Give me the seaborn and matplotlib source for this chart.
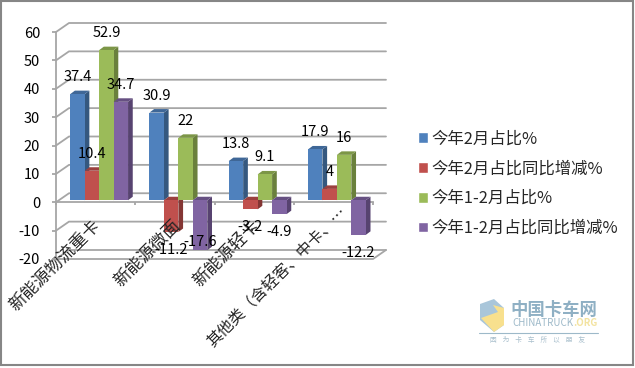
import pandas as pd
import seaborn as sns
import matplotlib.pyplot as plt
from matplotlib.patches import Polygon, Rectangle
from matplotlib.transforms import Affine2D

categories = ["新能源物流重卡", "新能源微面", "新能源轻卡", "其他类（含轻客、中卡、…"]
series_names = ["今年2月占比%", "今年2月占比同比增减%", "今年1-2月占比%", "今年1-2月占比同比增减%"]
feb_share = [37.4, 30.9, 13.8, 17.9]
feb_change = [10.4, -11.2, -3.2, 4]
ytd_share = [52.9, 22, 9.1, 16]
ytd_change = [34.7, -17.6, -4.9, -12.2]
y_ticks = [-20, -10, 0, 10, 20, 30, 40, 50, 60]

front_colors = ["#4F81BD", "#C0504D", "#9BBB59", "#8064A2"]
side_colors = ["#35587F", "#843634", "#6A803C", "#574370"]
top_colors = ["#3F6797", "#9A403E", "#7C9647", "#665082"]
GRID = "#A6A6A6"
W, H = 635, 368

sns.set_theme(style="white")
plt.rcParams["font.family"] = ["Noto Sans CJK SC", "DejaVu Sans"]
plt.rcParams["axes.unicode_minus"] = False

df = pd.DataFrame(
    {
        "category": categories,
        series_names[0]: feb_share,
        series_names[1]: feb_change,
        series_names[2]: ytd_share,
        series_names[3]: ytd_change,
    }
).melt(id_vars="category", var_name="series", value_name="value")

fig = plt.figure(figsize=(W / 100, H / 100), dpi=100, facecolor="white")
# front plane of the fake 3d box, in pixels: x 56-373, y 32-259
ax = fig.add_axes([56 / W, 1 - 259 / H, 317 / W, 227 / H])
ax.patch.set_visible(False)

sns.barplot(
    data=df,
    x="category",
    y="value",
    hue="series",
    hue_order=series_names,
    palette=front_colors,
    width=0.73,
    gap=0,
    saturation=1,
    errorbar=None,
    ax=ax,
)
ax.set_xlim(-0.5, 3.5)
ax.set_ylim(-20, 60)

px_x = 317 / 4  # pixels per category
px_y = 227 / 80  # pixels per y unit

# back wall and floor
wall_x = 13 / px_x
wall_y = 9 / px_y
for val in y_ticks:
    ax.plot(
        [-0.5, -0.5 + wall_x, 3.5 + wall_x],
        [val, val + wall_y, val + wall_y],
        color=GRID,
        lw=1.3,
        clip_on=False,
        zorder=0.4,
    )
ax.plot(
    [-0.5, 3.5, 3.5 + wall_x],
    [-20, -20, -20 + wall_y],
    color=GRID,
    lw=1.3,
    clip_on=False,
    zorder=0.4,
)

# sides and tops of the bars, left to right so the next bar covers them
shift_x = 3.5 / px_x
shift_y = 2 / px_y
dx = 4.7 / px_x
dy = 3.5 / px_y
bars = []
for i, container in enumerate(ax.containers):
    for bar in container:
        bar.set_x(bar.get_x() + shift_x)
        bar.set_y(bar.get_y() + shift_y)
        left = bar.get_x()
        right = left + bar.get_width()
        low = min(bar.get_y(), bar.get_y() + bar.get_height())
        high = max(bar.get_y(), bar.get_y() + bar.get_height())
        base_z = 1 + i * 0.1
        bar.set_zorder(base_z + 0.05)
        bar.set_linewidth(0)
        ax.add_patch(
            Polygon(
                [(right, low), (right + dx, low + dy), (right + dx, high + dy), (right, high)],
                color=side_colors[i],
                lw=0,
                zorder=base_z,
                clip_on=False,
            )
        )
        ax.add_patch(
            Polygon(
                [(left, high), (left + dx, high + dy), (right + dx, high + dy), (right, high)],
                color=top_colors[i],
                lw=0,
                zorder=base_z,
                clip_on=False,
            )
        )
        bars.append((bar, bar.get_height()))

# data labels
for bar, val in bars:
    xc = bar.get_x() + bar.get_width() / 2
    if val >= 0:
        yt = bar.get_y() + val + 17 / px_y
    else:
        # excel keeps the label inside the box near the floor
        yt = bar.get_y() + val - 18 / px_y
        if yt < -19:
            yt = bar.get_y() + val + 8 / px_y
    ax.text(xc, yt, f"{val:g}", ha="center", va="center", fontsize=10.5, color="black", zorder=5, clip_on=False)

# axes
sns.despine(ax=ax, top=True, right=True)
ax.spines["bottom"].set_position(("data", 0))
for side in ["left", "bottom"]:
    ax.spines[side].set_color(GRID)
    ax.spines[side].set_linewidth(1.3)
    ax.spines[side].set_zorder(0.5)
ax.set_axisbelow(False)
ax.set_xlabel("")
ax.set_ylabel("")
ax.set_yticks(y_ticks)
ax.set_yticklabels([str(v) for v in y_ticks], fontsize=10.5, color="black")
ax.tick_params(axis="y", left=True, length=3, width=1.3, color=GRID, pad=8.5)
ax.set_xticks(range(4))
ax.set_xticklabels(categories, rotation=45, ha="right", va="top", rotation_mode="anchor", fontsize=12.4, color="#262626")
ax.tick_params(axis="x", which="major", length=0, pad=6)
ax.set_xticks([-0.5, 0.5, 1.5, 2.5, 3.5], minor=True)
ax.tick_params(axis="x", which="minor", bottom=True, length=2.2, width=1.3, color=GRID)

# nudge the slanted labels, the long one is smaller and sits higher
tick_labels = ax.get_xticklabels()
for lab in tick_labels[:3]:
    lab.set_transform(lab.get_transform() + Affine2D().translate(-3.5, -6))
tick_labels[3].set_fontsize(11.4)
tick_labels[3].set_transform(tick_labels[3].get_transform() + Affine2D().translate(5, 7))

# legend
handles, labels = ax.get_legend_handles_labels()
ax.legend(
    handles,
    labels,
    loc="upper left",
    bbox_to_anchor=(413 / W, 1 - 125.5 / H),
    bbox_transform=fig.transFigure,
    frameon=False,
    fontsize=11.8,
    handlelength=0.62,
    handleheight=0.62,
    handletextpad=0.22,
    labelspacing=0.78,
    borderpad=0.3,
    borderaxespad=0,
)

# chart frame
fig.add_artist(
    Rectangle((1 / W, 1 - 365 / H), 632 / W, 364 / H, transform=fig.transFigure, fill=False, ec="#868686", lw=1.5)
)

# watermark
def fx(x):
    return x / W


def fy(y):
    return 1 - y / H


fig.add_artist(
    Polygon(
        [(fx(480), fy(304)), (fx(494), fy(299)), (fx(504), fy(308)), (fx(504), fy(325)), (fx(494), fy(332)), (fx(480), fy(320))],
        transform=fig.transFigure,
        color="#A9C6DA",
        lw=0,
    )
)
fig.add_artist(
    Polygon(
        [(fx(481), fy(318)), (fx(498), fy(312)), (fx(493), fy(305)), (fx(504), fy(308)), (fx(504), fy(325)), (fx(494), fy(332))],
        transform=fig.transFigure,
        color="#F8E08E",
        lw=0,
    )
)
fig.text(fx(510), fy(310), "中国卡车网", fontsize=12.5, color="#8FB0C4", va="center", ha="left", fontweight="bold")
fig.text(fx(512), fy(323), "CHINATRUCK", fontsize=7, color="#9DB9C9", va="center", ha="left")
fig.text(fx(573), fy(323), ".ORG", fontsize=7, color="#F3E3A0", va="center", ha="left", fontweight="bold")
fig.add_artist(plt.Line2D([fx(479), fx(598)], [fy(333), fy(333)], color="#9DB9C9", lw=0.8))
fig.text(fx(538), fy(340), "因    为    卡    车    所    以    朋    友", fontsize=4.8, color="#A8BFCC", va="center", ha="center")

fig.savefig("out.png", dpi=100)
